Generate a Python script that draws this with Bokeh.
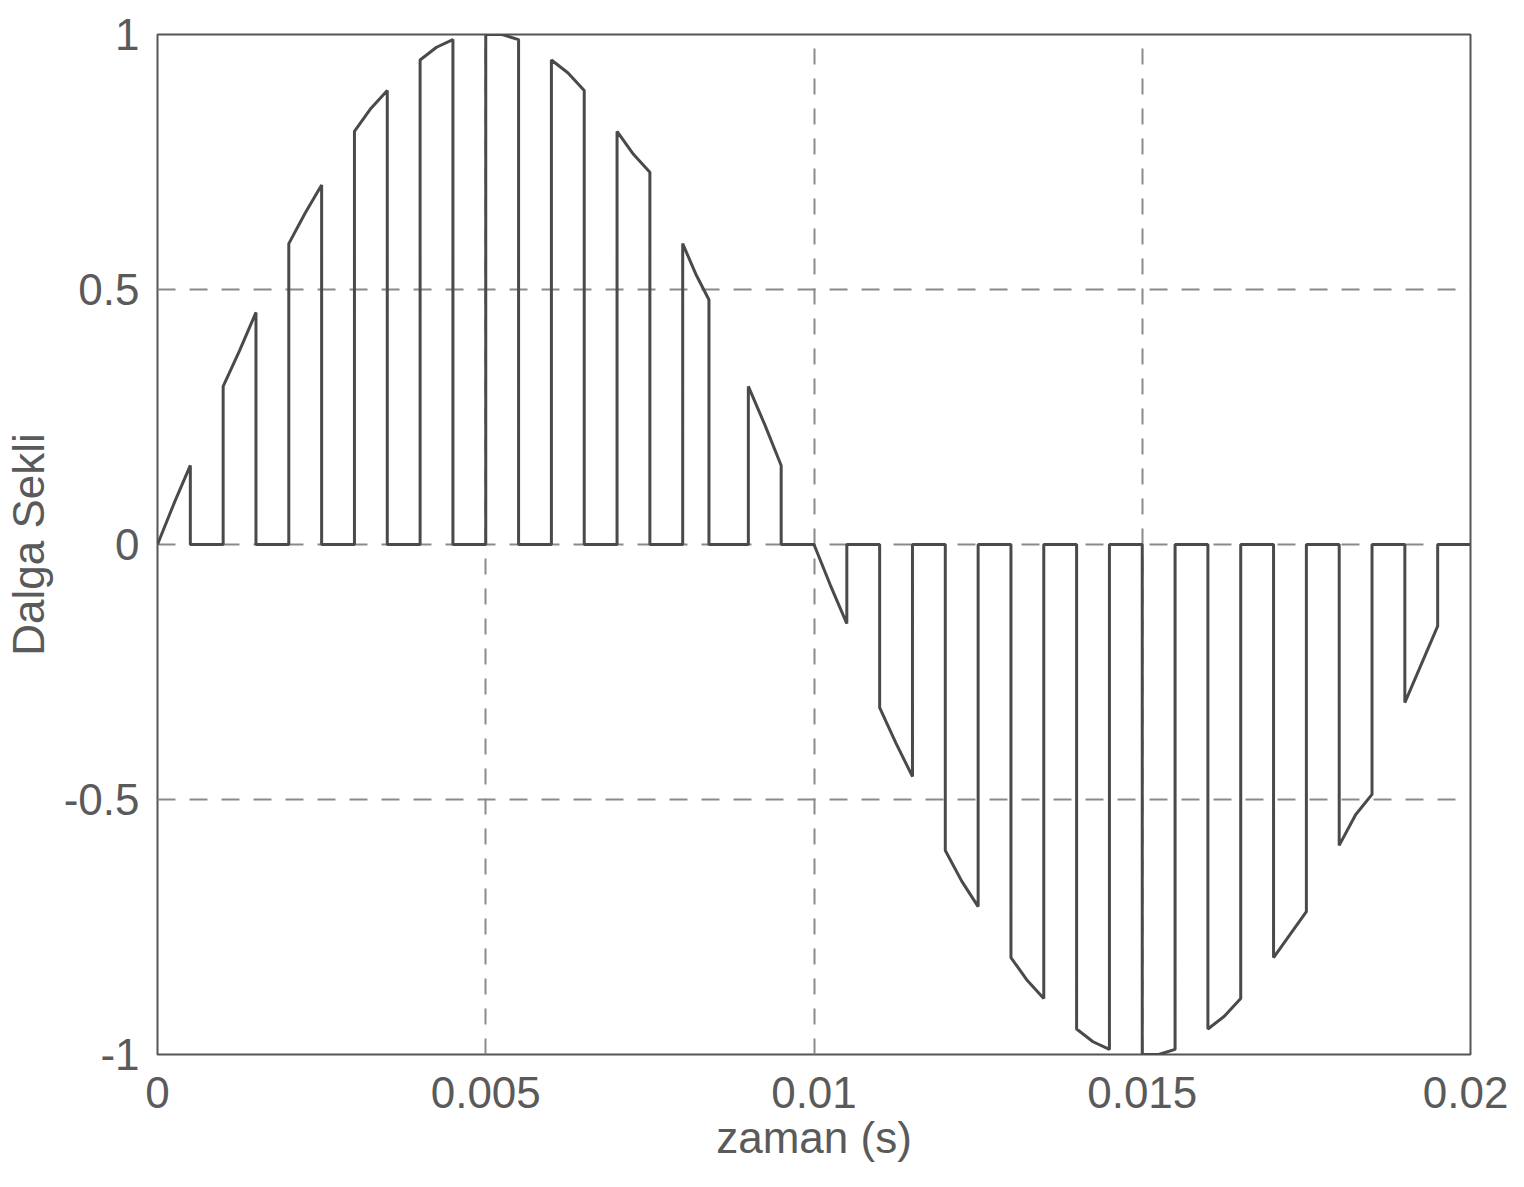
from bokeh.plotting import figure
from bokeh.models import FixedTicker, Range1d
from bokeh.embed import file_html
from bokeh.resources import INLINE

pulse_start = [0.0, 0.001, 0.002, 0.003, 0.004, 0.005, 0.006, 0.007, 0.008, 0.009,
               0.010, 0.011, 0.012, 0.013, 0.014, 0.015, 0.016, 0.017, 0.018, 0.019]
pulse_end = [0.0005, 0.0015, 0.0025, 0.0035, 0.0045, 0.0055, 0.0065, 0.0075, 0.0084, 0.0095,
             0.0105, 0.0115, 0.0125, 0.0135, 0.0145, 0.0155, 0.0165, 0.0175, 0.0185, 0.0195]
value_start = [0.0, 0.31, 0.59, 0.81, 0.95, 1.0, 0.95, 0.81, 0.59, 0.31,
               0.0, -0.32, -0.60, -0.81, -0.95, -1.0, -0.95, -0.81, -0.59, -0.31]
value_mid = [0.08, 0.38, 0.65, 0.855, 0.975, 1.0, 0.925, 0.765, 0.53, 0.235,
             -0.08, -0.39, -0.66, -0.855, -0.975, -1.0, -0.925, -0.765, -0.53, -0.235]
value_end = [0.155, 0.455, 0.705, 0.89, 0.99, 0.99, 0.89, 0.73, 0.48, 0.155,
             -0.155, -0.455, -0.71, -0.89, -0.99, -0.99, -0.89, -0.72, -0.49, -0.16]
t_end = 0.02

x_ticks = [0, 0.005, 0.01, 0.015, 0.02]
x_tick_labels = ["0", "0.005", "0.01", "0.015", "0.02"]
y_ticks = [-1, -0.5, 0, 0.5, 1]
y_tick_labels = ["-1", "-0.5", "0", "0.5", "1"]

# Build the piecewise waveform path from the data
xs, ys = [], []
for t0, t1, v0, vm, v1 in zip(pulse_start, pulse_end, value_start, value_mid, value_end):
    xs += [t0, t0, (t0 + t1) / 2, t1, t1]
    ys += [0, v0, vm, v1, 0]
xs.append(t_end)
ys.append(0)

p = figure(width=1508, height=1165, output_backend="svg", toolbar_location=None,
           x_range=Range1d(0, 0.02), y_range=Range1d(-1, 1),
           min_border_left=157, min_border_right=38, min_border_top=34, min_border_bottom=111)

p.background_fill_color = "white"
p.border_fill_color = "white"
p.outline_line_color = "#555555"
p.outline_line_width = 2

font = "Liberation Sans"
txt_color = "#5a5a5a"

for ax in (p.xaxis[0], p.yaxis[0]):
    ax.axis_line_color = None
    ax.major_tick_line_color = None
    ax.minor_tick_line_color = None
    ax.major_label_text_font = font
    ax.major_label_text_font_size = "44px"
    ax.major_label_text_color = txt_color
    ax.axis_label_text_font = font
    ax.axis_label_text_font_size = "44px"
    ax.axis_label_text_color = txt_color
    ax.axis_label_text_font_style = "normal"

p.xaxis.ticker = FixedTicker(ticks=x_ticks)
p.xaxis.major_label_overrides = {t: l for t, l in zip(x_ticks, x_tick_labels)}
p.yaxis.ticker = FixedTicker(ticks=y_ticks)
p.yaxis.major_label_overrides = {t: l for t, l in zip(y_ticks, y_tick_labels)}
p.xaxis.major_label_standoff = 16
p.yaxis.major_label_standoff = 12
p.xaxis.axis_label = "zaman (s)"
p.yaxis.axis_label = "Dalga Sekli"
p.xaxis.axis_label_standoff = 2
p.yaxis.axis_label_standoff = 8

p.xgrid.grid_line_color = "#8a8a8a"
p.ygrid.grid_line_color = "#8a8a8a"
p.xgrid.grid_line_width = 2
p.ygrid.grid_line_width = 2
p.xgrid.grid_line_dash = "16 14"
p.ygrid.grid_line_dash = "18 14"

p.line(xs, ys, line_color="#4a4a4a", line_width=3)

open("out.html", "w").write(file_html(p, INLINE))
